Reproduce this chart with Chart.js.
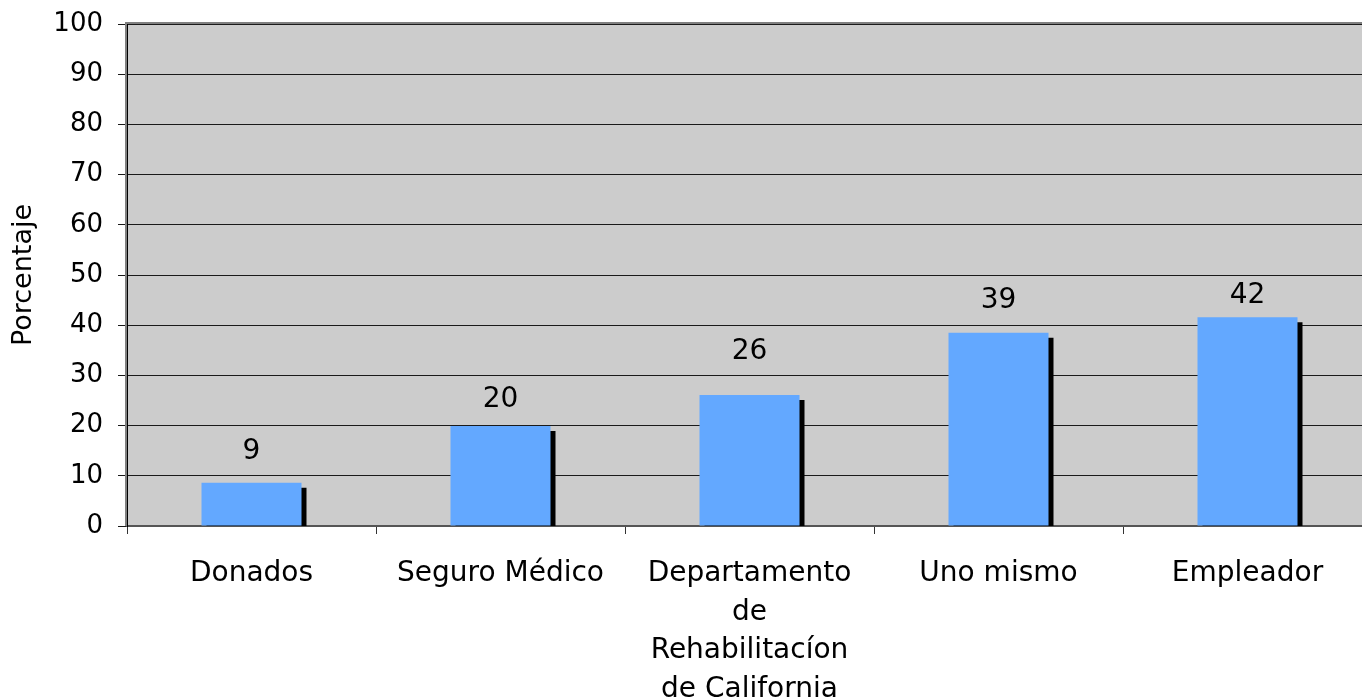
<!DOCTYPE html>
<html>
<head>
<meta charset="utf-8">
<script src="https://cdn.jsdelivr.net/npm/chart.js@4/dist/chart.umd.min.js"></script>
<style>
    html, body { margin: 0; padding: 0; background: #ffffff; overflow: hidden; }
    #wrap { width: 1372px; height: 698px; position: relative; }
</style>
</head>
<body>
<div id="wrap"><canvas id="barChart"></canvas></div>
<script>
// Chart data
const categories = [
    "Donados",
    "Seguro Médico",
    ["Departamento", "de", "Rehabilitacíon", "de California"],
    "Uno mismo",
    "Empleador"
];
const values = [8.6, 19.9, 26.1, 38.5, 41.6];
const valueLabels = ["9", "20", "26", "39", "42"];
// where the value labels sit, in axis units
const labelLevels = [15.4, 25.7, 35.2, 45.4, 46.5];
const yTicks = [0, 10, 20, 30, 40, 50, 60, 70, 80, 90, 100];

const FONT = "'DejaVu Sans', Verdana, sans-serif";

// Gray plot background and frame
const plotBackground = {
    id: "plotBackground",
    beforeDraw(chart) {
        const { ctx, chartArea: a } = chart;
        ctx.save();
        ctx.fillStyle = "#cccccc";
        ctx.fillRect(a.left, a.top, a.right - a.left, a.bottom - a.top);
        ctx.restore();
    },
    beforeDatasetsDraw(chart) {
        const { ctx, chartArea: a } = chart;
        ctx.save();
        ctx.strokeStyle = "#808080";
        ctx.lineWidth = 2;
        ctx.beginPath();
        ctx.moveTo(a.left - 1, a.bottom);
        ctx.lineTo(a.left - 1, a.top - 1);
        ctx.lineTo(a.right, a.top - 1);
        ctx.stroke();
        ctx.restore();
    }
};

// Hard black drop shadow behind each bar
const barShadow = {
    id: "barShadow",
    beforeDatasetsDraw(chart) {
        const { ctx, chartArea: a } = chart;
        ctx.save();
        ctx.beginPath();
        ctx.rect(a.left, a.top, a.right - a.left, a.bottom - a.top);
        ctx.clip();
        ctx.shadowColor = "#000000";
        ctx.shadowBlur = 0;
        ctx.shadowOffsetX = 5;
        ctx.shadowOffsetY = 5;
    },
    afterDatasetsDraw(chart) {
        chart.ctx.restore();
    }
};

// Value labels above the bars
const valueLabelPlugin = {
    id: "valueLabelPlugin",
    afterDatasetsDraw(chart) {
        const { ctx } = chart;
        const meta = chart.getDatasetMeta(0);
        const yScale = chart.scales.y;
        ctx.save();
        ctx.font = "28px " + FONT;
        ctx.fillStyle = "#000000";
        ctx.textAlign = "center";
        ctx.textBaseline = "alphabetic";
        meta.data.forEach((bar, i) => {
            const y = yScale.getPixelForValue(labelLevels[i]);
            ctx.fillText(valueLabels[i], bar.x, y + 10);
        });
        ctx.restore();
    }
};

const ctx = document.getElementById("barChart");
new Chart(ctx, {
    type: "bar",
    data: {
        labels: categories,
        datasets: [{
            data: values,
            backgroundColor: "#63a8ff",
            borderWidth: 0,
            barPercentage: 0.4016,
            categoryPercentage: 1.0
        }]
    },
    options: {
        responsive: true,
        maintainAspectRatio: false,
        animation: false,
        layout: { padding: { top: 24, right: 0, bottom: 0, left: 0 } },
        plugins: {
            legend: { display: false },
            tooltip: { enabled: false }
        },
        scales: {
            x: {
                grid: {
                    offset: true,
                    drawOnChartArea: false,
                    tickLength: 8,
                    tickColor: "#333333",
                    lineWidth: 1
                },
                border: { color: "#555555", width: 2 },
                ticks: {
                    color: "#000000",
                    padding: 21,
                    maxRotation: 0,
                    autoSkip: false,
                    font: { family: FONT, size: 28, lineHeight: 1.37 }
                },
                afterFit(scale) {
                    scale.height = 172;
                    scale.paddingTop = 0;
                    scale.paddingBottom = 0;
                }
            },
            y: {
                min: 0,
                max: 100,
                afterBuildTicks(scale) {
                    scale.ticks = yTicks.map(v => ({ value: v }));
                },
                grid: {
                    color: "#1a1a1a",
                    lineWidth: 1,
                    tickLength: 9,
                    tickColor: "#1a1a1a"
                },
                border: { color: "#000000", width: 1 },
                ticks: {
                    color: "#000000",
                    padding: 15,
                    font: { family: FONT, size: 26 }
                },
                title: {
                    display: true,
                    text: "Porcentaje",
                    color: "#000000",
                    padding: { top: 8, bottom: 0 },
                    font: { family: FONT, size: 27, lineHeight: 1.2 }
                },
                afterFit(scale) {
                    scale.width = 127;
                    scale.paddingTop = 0;
                    scale.paddingBottom = 0;
                }
            }
        }
    },
    plugins: [plotBackground, barShadow, valueLabelPlugin]
});
</script>
</body>
</html>
